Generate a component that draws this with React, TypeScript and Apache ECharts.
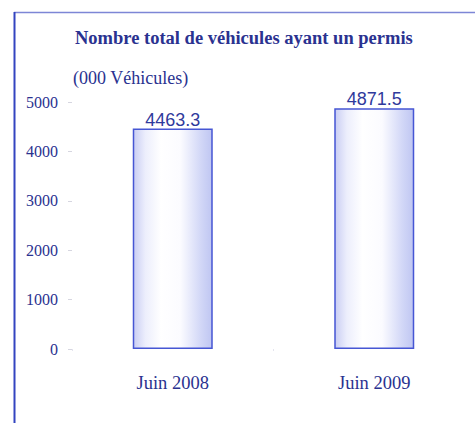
import React, { useEffect, useRef } from "react";
import * as echarts from "echarts";

const categories = ["Juin 2008", "Juin 2009"];
const values = [4463.3, 4871.5];
const titleText = "Nombre total de véhicules ayant un permis";
const unitText = "(000 Véhicules)";

export default function App() {
  const ref = useRef<HTMLDivElement>(null);
  useEffect(() => {
    const chart = echarts.init(ref.current!, undefined, { renderer: "svg" });
    const navy = "#2a3290";
    const serif = "'Liberation Serif', 'DejaVu Serif', serif";
    chart.setOption({
      animation: false,
      backgroundColor: "#ffffff",
      title: [
        {
          text: titleText,
          left: 75,
          top: 28,
          padding: 0,
          textStyle: { fontFamily: serif, fontSize: 18.5, fontWeight: "bold", color: navy },
        },
        {
          text: unitText,
          left: 73,
          top: 69,
          padding: 0,
          textStyle: { fontFamily: serif, fontSize: 18, fontWeight: "normal", color: navy },
        },
      ],
      graphic: [
        { type: "line", shape: { x1: 14, y1: 12.5, x2: 475, y2: 12.5 }, style: { stroke: "#7d86d6", lineWidth: 1.5 } },
        { type: "line", shape: { x1: 14.5, y1: 12, x2: 14.5, y2: 423 }, style: { stroke: "#3344c0", lineWidth: 2 } },
      ],
      grid: { left: 72, right: 0, top: 102, bottom: 74 },
      xAxis: {
        type: "category",
        data: categories,
        axisLine: { show: false },
        axisTick: { show: true, length: 2, lineStyle: { color: "#e4e4ee" } },
        axisLabel: { margin: 24, fontFamily: serif, fontSize: 18.5, color: navy },
      },
      yAxis: {
        type: "value",
        min: 0,
        max: 5000,
        interval: 1000,
        axisLine: { show: false },
        axisTick: { show: true, length: 4, lineStyle: { color: "#d6d6e0" } },
        splitLine: { show: false },
        axisLabel: {
          margin: 14,
          fontFamily: serif,
          fontSize: 16,
          color: navy,
          formatter: (v: number) => String(v),
        },
      },
      series: [
        {
          type: "bar",
          data: values,
          barWidth: 80,
          itemStyle: {
            color: new echarts.graphic.LinearGradient(0, 0, 1, 0, [
              { offset: 0, color: "#c9cdf3" },
              { offset: 0.15, color: "#eceefc" },
              { offset: 0.35, color: "#ffffff" },
              { offset: 0.6, color: "#fbfbff" },
              { offset: 0.85, color: "#d3d8f7" },
              { offset: 1, color: "#bfc6f2" },
            ]),
            borderColor: "#4656d4",
            borderWidth: 1.5,
          },
          label: {
            show: true,
            position: "top",
            distance: 0,
            fontFamily: "'Liberation Sans', Arial, sans-serif",
            fontSize: 18,
            color: "#2f3a9c",
            formatter: (p: any) => Number(p.value).toFixed(1),
          },
        },
      ],
    });
    return () => chart.dispose();
  }, []);
  return <div ref={ref} style={{ position: "absolute", left: 0, top: 0, width: 475, height: 423 }} />;
}
